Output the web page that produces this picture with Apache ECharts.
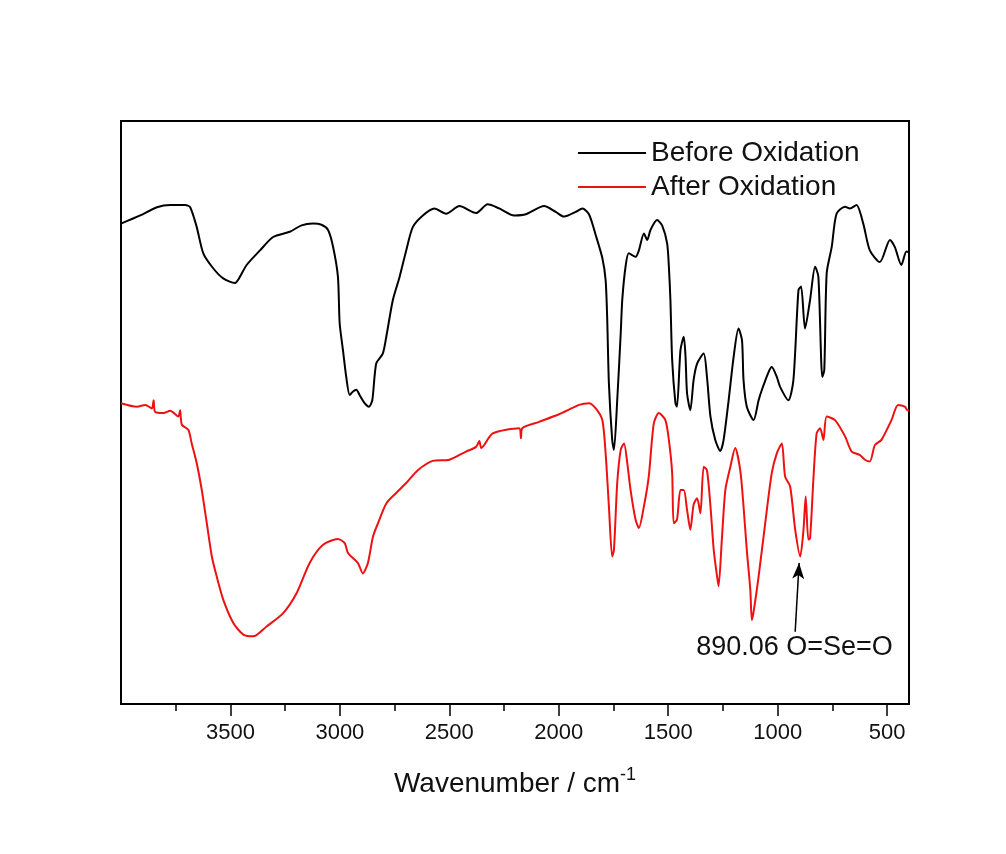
<!DOCTYPE html>
<html>
<head>
<meta charset="utf-8">
<script src="https://cdn.jsdelivr.net/npm/echarts@6/dist/echarts.min.js"></script>
<style>
  html, body { margin: 0; padding: 0; background: #fff; }
  #chart { width: 1006px; height: 854px; }
</style>
</head>
<body>
<div id="chart"></div>
<script>
// FTIR spectra, wavenumber (cm-1) vs transmittance (arb. units)
const beforeWavenumber = [4000, 3912, 3836, 3775, 3707, 3684, 3654, 3624, 3578, 3533, 3479, 3464, 3426, 3365, 3305, 3229, 3175, 3123, 3084, 3054, 3031, 3009, 3001, 2986, 2971, 2955, 2940, 2925, 2910, 2887, 2867, 2852, 2834, 2804, 2788, 2758, 2727, 2697, 2667, 2621, 2568, 2515, 2454, 2378, 2325, 2272, 2204, 2150, 2067, 2014, 1976, 1923, 1892, 1862, 1831, 1801, 1786, 1779, 1771, 1756, 1748, 1733, 1717, 1710, 1695, 1680, 1649, 1634, 1611, 1596, 1581, 1551, 1528, 1505, 1497, 1490, 1482, 1467, 1460, 1444, 1429, 1421, 1414, 1399, 1384, 1368, 1338, 1323, 1307, 1285, 1262, 1247, 1224, 1201, 1179, 1163, 1156, 1141, 1110, 1087, 1072, 1042, 1027, 1004, 989, 951, 928, 905, 893, 875, 852, 829, 814, 796, 787, 776, 753, 731, 692, 670, 640, 609, 579, 533, 487, 465, 435, 412, 400];
const beforeTransmittance = [82.4, 83.8, 85.2, 85.6, 85.6, 85.2, 81.8, 77.3, 74.7, 73.0, 72.2, 72.8, 75.3, 77.8, 80.1, 81.0, 82.1, 82.4, 82.2, 81.3, 78.4, 73.3, 65.3, 60.7, 56.1, 53.0, 53.6, 53.9, 53.0, 51.6, 51.0, 52.1, 58.4, 60.1, 63.0, 69.3, 73.3, 77.8, 81.8, 83.8, 85.0, 84.1, 85.4, 84.2, 85.7, 85.0, 83.8, 84.0, 85.4, 84.4, 83.6, 84.4, 85.0, 84.0, 80.4, 76.5, 72.7, 66.4, 55.0, 45.3, 43.6, 52.1, 63.6, 69.3, 75.0, 77.3, 76.7, 77.8, 80.7, 79.6, 81.3, 83.0, 82.1, 79.0, 75.0, 69.3, 59.0, 51.6, 51.0, 60.7, 63.0, 59.6, 53.3, 50.4, 55.6, 58.4, 60.1, 56.1, 49.3, 45.3, 43.4, 45.3, 52.1, 59.6, 64.4, 62.4, 55.6, 51.0, 48.7, 52.1, 53.9, 56.9, 57.8, 56.1, 54.4, 52.1, 55.6, 71.0, 71.6, 64.4, 69.3, 75.0, 73.3, 56.1, 57.3, 73.9, 78.4, 84.1, 85.3, 85.0, 85.6, 82.4, 77.8, 75.8, 79.6, 78.4, 75.3, 77.6, 77.5];

const afterWavenumber = [4000, 3927, 3889, 3859, 3851, 3844, 3806, 3775, 3738, 3730, 3722, 3692, 3677, 3654, 3631, 3608, 3585, 3563, 3533, 3487, 3441, 3396, 3335, 3259, 3198, 3138, 3077, 3009, 2978, 2963, 2918, 2895, 2872, 2849, 2826, 2788, 2743, 2697, 2644, 2576, 2500, 2424, 2378, 2363, 2354, 2302, 2181, 2173, 2167, 2090, 1999, 1907, 1862, 1831, 1801, 1786, 1771, 1756, 1748, 1733, 1717, 1702, 1687, 1672, 1649, 1634, 1611, 1589, 1566, 1543, 1513, 1497, 1482, 1475, 1460, 1444, 1429, 1414, 1399, 1384, 1368, 1353, 1338, 1323, 1307, 1292, 1277, 1270, 1255, 1239, 1216, 1194, 1171, 1156, 1141, 1125, 1118, 1110, 1087, 1057, 1027, 1004, 981, 966, 943, 920, 897, 882, 872, 860, 852, 837, 822, 806, 791, 776, 738, 692, 662, 624, 601, 579, 556, 526, 480, 450, 419, 407, 400];
const afterTransmittance = [51.6, 51.0, 51.3, 50.7, 52.1, 50.1, 49.9, 50.3, 49.3, 50.4, 47.9, 47.0, 44.7, 41.3, 36.7, 31.0, 25.3, 21.9, 17.9, 13.9, 11.9, 11.6, 13.3, 15.6, 19.0, 24.2, 27.3, 28.3, 27.6, 25.9, 24.2, 22.4, 24.2, 28.7, 31.0, 34.4, 36.2, 37.9, 40.1, 41.7, 41.9, 43.3, 44.1, 45.1, 43.9, 46.4, 47.3, 45.6, 47.3, 48.4, 49.7, 51.3, 51.6, 50.7, 48.7, 43.0, 33.9, 25.3, 26.4, 37.9, 43.6, 44.7, 41.3, 36.7, 31.6, 30.2, 33.9, 39.0, 48.1, 49.9, 48.7, 45.3, 39.6, 31.0, 31.6, 36.7, 36.7, 33.3, 29.9, 34.2, 35.3, 32.7, 40.7, 40.1, 33.9, 26.4, 21.9, 20.2, 28.2, 36.7, 40.7, 43.9, 40.1, 33.9, 26.4, 19.6, 14.4, 15.8, 21.9, 31.0, 39.6, 43.0, 44.7, 39.0, 37.3, 29.9, 25.3, 29.9, 35.6, 28.2, 28.4, 38.4, 46.4, 47.3, 45.3, 49.3, 48.7, 45.9, 43.3, 42.7, 41.9, 41.6, 44.4, 45.3, 48.7, 51.3, 51.0, 50.4, 50.4];

const majorTicks = [3500, 3000, 2500, 2000, 1500, 1000, 500];
const minorTicks = [3750, 3250, 2750, 2250, 1750, 1250, 750];

// annotation for the Se=O band
const noteText = '890.06 O=Se=O';
const arrowTail = [920, 12.4];
const arrowHead = [902, 24.2];
const notePos = [923, 9.7];

function zip(xs, ys) {
  return xs.map((x, i) => [x, ys[i]]);
}

const textColor = '#111';
const font = 'Liberation Sans, Arial, sans-serif';

const option = {
  backgroundColor: '#fff',
  animation: false,
  grid: {
    left: 121,
    right: 97,
    top: 121,
    bottom: 150,
    show: true,
    borderColor: '#000',
    borderWidth: 2
  },
  legend: {
    orient: 'vertical',
    left: 578,
    top: 138,
    padding: 0,
    itemGap: 4,
    icon: 'rect',
    itemWidth: 68,
    itemHeight: 2,
    textStyle: {
      fontFamily: font,
      fontSize: 28,
      lineHeight: 30,
      color: textColor
    },
    data: ['Before Oxidation', 'After Oxidation']
  },
  xAxis: [{
    type: 'value',
    min: 400,
    max: 4000,
    inverse: true,
    splitLine: { show: false },
    axisLine: { show: false },
    axisTick: {
      show: true,
      customValues: majorTicks,
      length: 12,
      lineStyle: { color: '#000', width: 1.5 }
    },
    axisLabel: {
      customValues: majorTicks,
      formatter: v => String(v),
      margin: 18,
      fontFamily: font,
      fontSize: 22,
      color: textColor
    },
    name: '{t|Wavenumber / cm}{s|-1}',
    nameLocation: 'middle',
    nameGap: 62,
    nameTextStyle: {
      rich: {
        t: { fontFamily: font, fontSize: 28, color: textColor, verticalAlign: 'bottom' },
        s: { fontFamily: font, fontSize: 18, color: textColor, verticalAlign: 'bottom', padding: [0, 0, 14, 0] }
      }
    }
  }, {
    type: 'value',
    min: 400,
    max: 4000,
    inverse: true,
    position: 'bottom',
    splitLine: { show: false },
    axisLine: { show: false },
    axisLabel: { show: false },
    axisTick: {
      show: true,
      customValues: minorTicks,
      length: 7,
      lineStyle: { color: '#000', width: 1.5 }
    }
  }],
  yAxis: {
    type: 'value',
    min: 0,
    max: 100,
    show: false
  },
  series: [{
    name: 'Before Oxidation',
    type: 'line',
    xAxisIndex: 0,
    symbol: 'none',
    smooth: 0.25,
    color: '#000',
    lineStyle: { color: '#000', width: 2 },
    data: zip(beforeWavenumber, beforeTransmittance)
  }, {
    name: 'After Oxidation',
    type: 'line',
    xAxisIndex: 0,
    symbol: 'none',
    smooth: 0.25,
    color: '#ee1111',
    lineStyle: { color: '#ee1111', width: 2 },
    data: zip(afterWavenumber, afterTransmittance),
    markLine: {
      silent: true,
      label: { show: false },
      itemStyle: { color: '#000' },
      lineStyle: { color: '#000', width: 1.5, type: 'solid' },
      data: [[
        { coord: arrowTail, symbol: 'none' },
        { coord: arrowHead, symbol: 'arrow', symbolSize: [9, 16] }
      ]]
    },
    markPoint: {
      silent: true,
      symbolSize: 0,
      label: {
        show: true,
        position: 'inside',
        formatter: noteText,
        fontFamily: font,
        fontSize: 27,
        color: textColor
      },
      data: [{ coord: notePos }]
    }
  }]
};

echarts.init(document.getElementById('chart')).setOption(option);
</script>
</body>
</html>
